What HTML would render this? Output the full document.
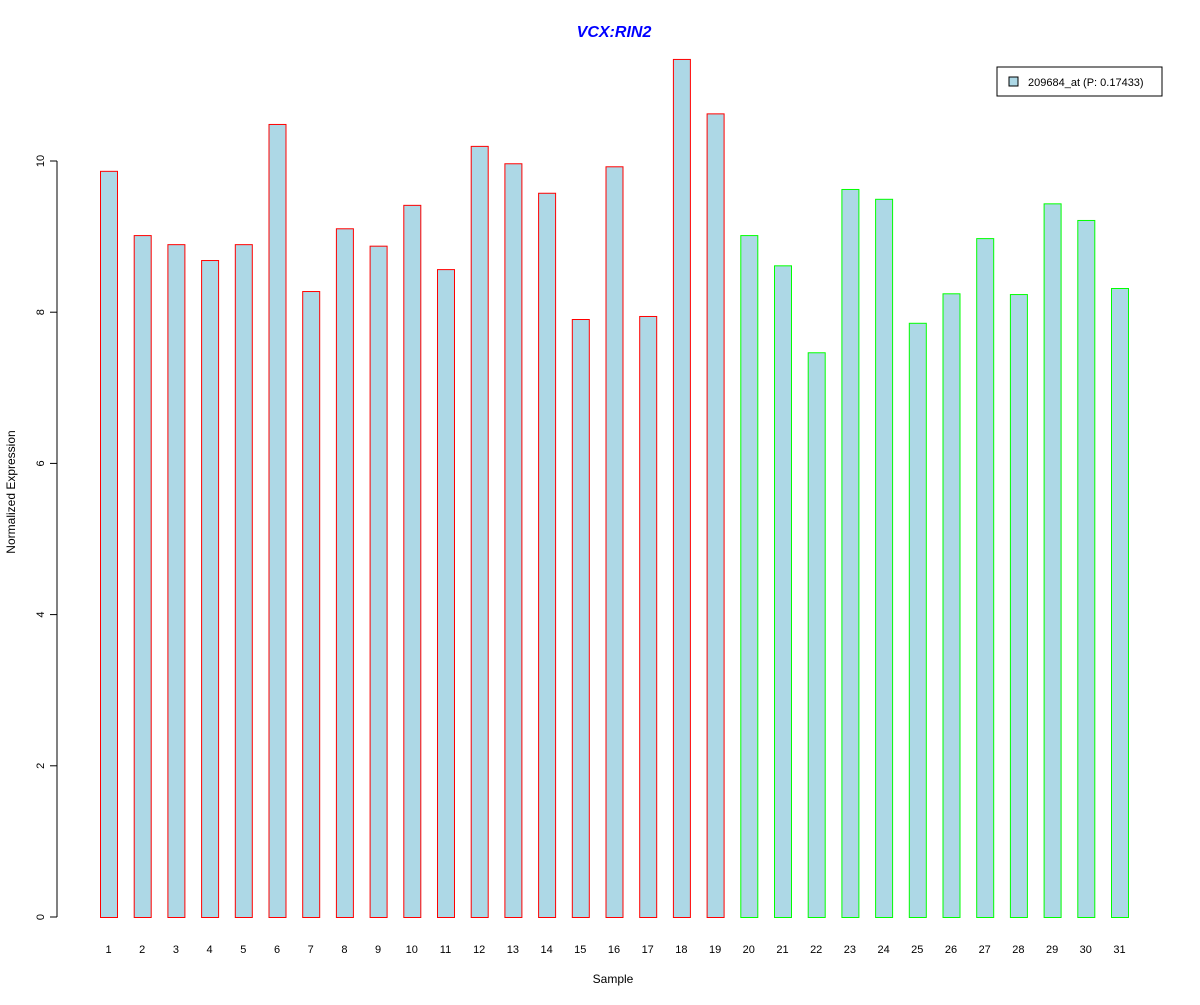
<!DOCTYPE html>
<html><head><meta charset="utf-8"><style>
body{margin:0;background:#fff;font-family:"Liberation Sans",Arial,sans-serif}
svg text{font-family:"Liberation Sans",Arial,sans-serif}
</style></head><body>
<svg id="chart" width="1200" height="1000" xmlns="http://www.w3.org/2000/svg">
<rect width="1200" height="1000" fill="#fff"/>
<text x="614" y="37" text-anchor="middle" font-size="16" font-weight="bold" font-style="italic" fill="#0000ff">VCX:RIN2</text>
<text x="613" y="983" text-anchor="middle" font-size="12">Sample</text>
<text transform="translate(15,492) rotate(-90)" text-anchor="middle" font-size="12">Normalized Expression</text>
<g id="yaxis"></g>
<g id="bars"></g>
<g id="xlabels"></g>
<g>
<rect x="997" y="67" width="165" height="29" fill="#fff" stroke="#000"/>
<rect x="1009" y="77" width="9" height="9" fill="#add8e6" stroke="#000"/>
<text x="1028" y="86" font-size="11">209684_at (P: 0.17433)</text>
</g>
</svg>
<script>
const categories=["1","2","3","4","5","6","7","8","9","10","11","12","13","14","15","16","17","18","19","20","21","22","23","24","25","26","27","28","29","30","31"];
const values=[9.87,9.02,8.90,8.69,8.90,10.49,8.28,9.11,8.88,9.42,8.57,10.20,9.97,9.58,7.91,9.93,7.95,11.35,10.63,9.02,8.62,7.47,9.63,9.50,7.86,8.25,8.98,8.24,9.44,9.22,8.32];
const groups=[1,1,1,1,1,1,1,1,1,1,1,1,1,1,1,1,1,1,1,2,2,2,2,2,2,2,2,2,2,2,2];
const yTicks=[0,2,4,6,8,10];
const NS="http://www.w3.org/2000/svg";
const y=v=>917-v*75.6;
const x=i=>100+i*33.7;
function mk(t,a,p){const e=document.createElementNS(NS,t);for(const k in a)e.setAttribute(k,a[k]);p.appendChild(e);return e;}
const ya=document.getElementById('yaxis');
const ln=mk('line',{x1:57,x2:57,y1:y(0),y2:y(10),stroke:'#000'},ya);


yTicks.forEach(t=>{
  const tk=mk('line',{x1:50,x2:57,y1:y(t),y2:y(t),stroke:'#000'},ya);
  
  
  const tx=mk('text',{transform:`translate(44,${y(t)}) rotate(-90)`,'text-anchor':'middle','font-size':11},ya);
  tx.textContent=t;
  
  
});
const bg=document.getElementById('bars'),xl=document.getElementById('xlabels');
values.forEach((v,i)=>{
  const r=mk('rect',{x:x(i)+0.5,y:y(v)+0.5,width:17,height:y(0)-y(v),fill:'#add8e6',stroke:groups[i]==1?'#ff0000':'#00ff00'},bg);
  
  
  const t=mk('text',{x:x(i)+8.5,y:953,'text-anchor':'middle','font-size':11},xl);
  t.textContent=categories[i];
  
  
});
</script>
</body></html>
